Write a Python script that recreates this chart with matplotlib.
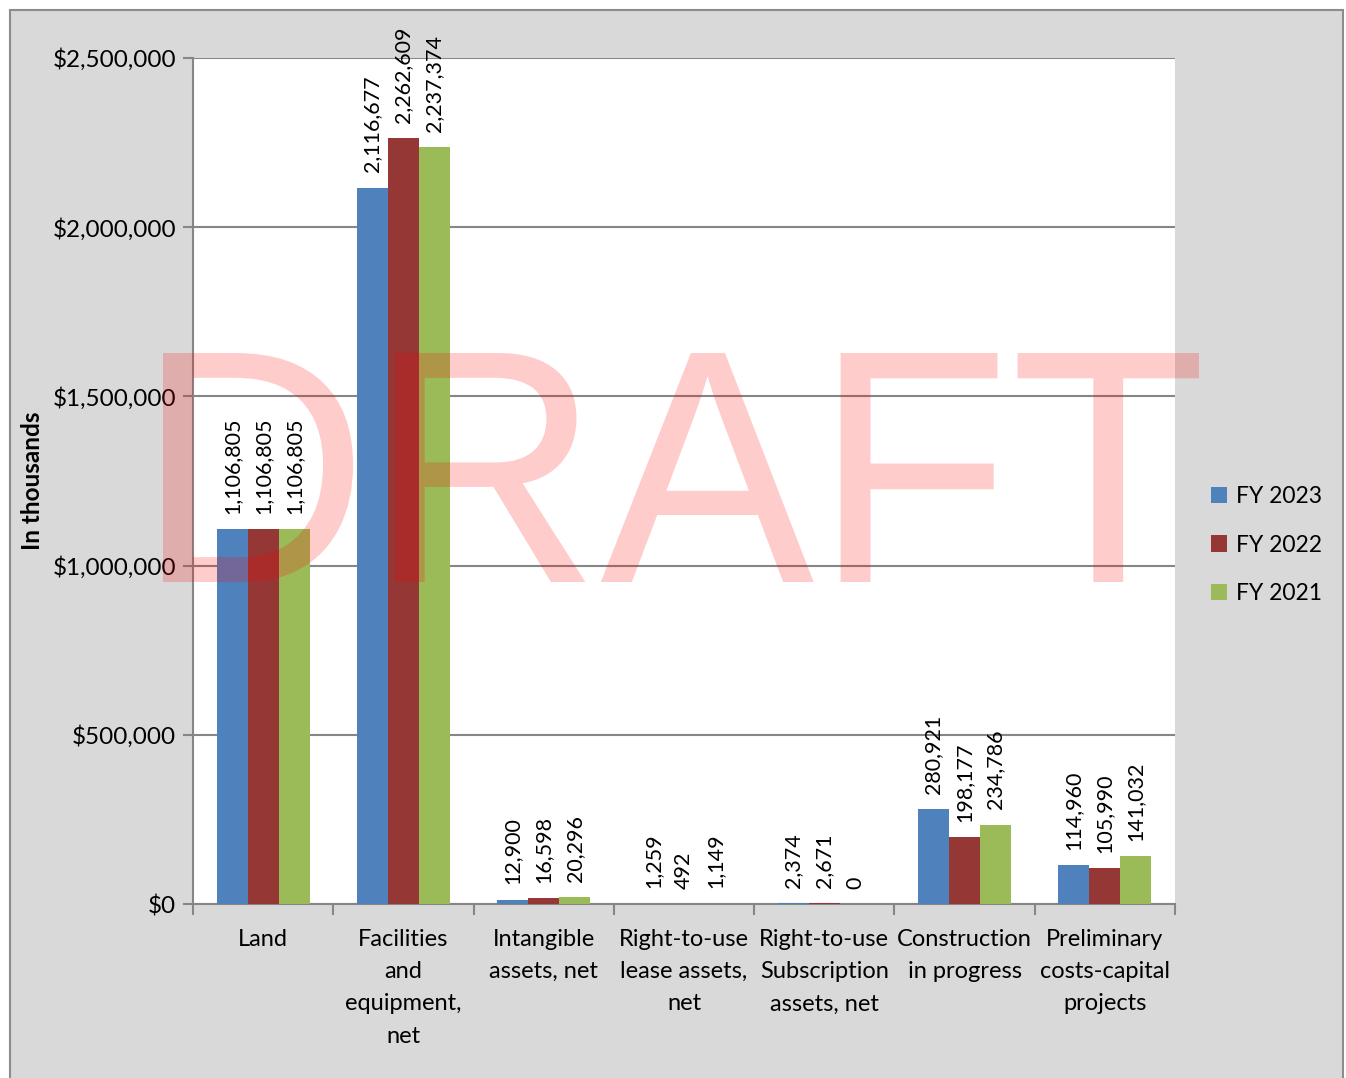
import matplotlib
matplotlib.use("Agg")
import matplotlib.pyplot as plt
import numpy as np
from matplotlib.patches import Rectangle, PathPatch
from matplotlib.textpath import TextPath
from matplotlib.font_manager import FontProperties
from matplotlib.transforms import Affine2D, IdentityTransform
from matplotlib.ticker import FuncFormatter, MultipleLocator

plt.rcParams['font.family'] = ['Lato', 'DejaVu Sans']

categories = ["Land", "Facilities\nand\nequipment,\nnet", "Intangible\nassets, net",
              "Right-to-use\nlease assets,\nnet", "Right-to-use\nSubscription\nassets, net",
              "Construction\nin progress", "Preliminary\ncosts-capital\nprojects"]
series_names = ["FY 2023", "FY 2022", "FY 2021"]
fy2023 = [1106805, 2116677, 12900, 1259, 2374, 280921, 114960]
fy2022 = [1106805, 2262609, 16598, 492, 2671, 198177, 105990]
fy2021 = [1106805, 2237374, 20296, 1149, 0, 234786, 141032]
colors = ["#4f81bd", "#953735", "#9bbb59"]

W, H = 1346, 1078
fig = plt.figure(figsize=(W/100, H/100), dpi=100)
fig.patch.set_facecolor("white")
bg = Rectangle((10/W, -0.01), (1343-10)/W, (H-10)/H + 0.01, transform=fig.transFigure,
               facecolor="#d9d9d9", edgecolor="#8c8c8c", linewidth=1.5, zorder=-5)
fig.add_artist(bg)

ax = fig.add_axes([193/W, 1-904/H, (1175-193)/W, (904-58)/H])
ax.set_zorder(1)
ax.set_facecolor("white")
x = np.arange(len(categories))
bw = 0.221
for i, (vals, c, name) in enumerate(zip([fy2023, fy2022, fy2021], colors, series_names)):
    xs = x + (i-1)*bw
    ax.bar(xs, vals, width=bw, color=c, label=name, zorder=3)
    for xi, v in zip(xs, vals):
        ax.annotate(f"{v:,}", (xi, v), xytext=(0, 11), textcoords="offset points",
                    rotation=90, ha="center", va="bottom", fontsize=15.5, zorder=5)

ax.set_xlim(-0.5, len(categories)-0.5)
ax.set_ylim(0, 2500000)
ax.yaxis.set_major_locator(MultipleLocator(500000))
ax.yaxis.set_major_formatter(FuncFormatter(lambda v, p: f"${v:,.0f}"))
ax.grid(axis="y", color="#868686", linewidth=1.5, zorder=1)
ax.set_axisbelow(True)
ax.set_xticks(x)
ax.set_xticklabels(categories, fontsize=17, linespacing=1.66, va="top")
ax.set_xticks(np.arange(-0.5, len(categories)), minor=True)
ax.tick_params(axis="x", which="major", length=0, pad=18)
ax.tick_params(axis="x", which="minor", length=8, width=1.5, color="#868686", direction="out")
ax.tick_params(axis="y", length=7, width=1.5, color="#868686", labelsize=17.5, pad=5)
for s in ["top", "right"]:
    ax.spines[s].set_visible(False)
for s in ["left", "bottom"]:
    ax.spines[s].set_color("#868686")
    ax.spines[s].set_linewidth(1.5)
ax.set_ylabel("In thousands", fontsize=17.5, fontweight="bold", va="center")
ax.yaxis.set_label_coords(-(193-32)/(1175-193), 0.5)

ax.legend(loc="center left", bbox_to_anchor=(1202/W, 1-545/H), bbox_transform=fig.transFigure,
          frameon=False, fontsize=16.5, handlelength=0.7, handleheight=0.7,
          handletextpad=0.4, labelspacing=1.2, borderaxespad=0)

# DRAFT watermark fitted to the reference's box
tp = TextPath((0, 0), "DRAFT", size=100, prop=FontProperties(family="Liberation Sans"))
ext = tp.get_extents()
x0, x1, ytop, ybot = 163, 1199, 353, 582
tr = (Affine2D().translate(-ext.x0, -ext.y0)
      .scale((x1-x0)/ext.width, (ybot-ytop)/ext.height)
      .translate(x0, H-ybot))
wm = PathPatch(tr.transform_path(tp), facecolor="red", edgecolor="none", alpha=0.2,
               transform=IdentityTransform(), zorder=10)
fig.add_artist(wm)

fig.savefig("out.png", dpi=100)
